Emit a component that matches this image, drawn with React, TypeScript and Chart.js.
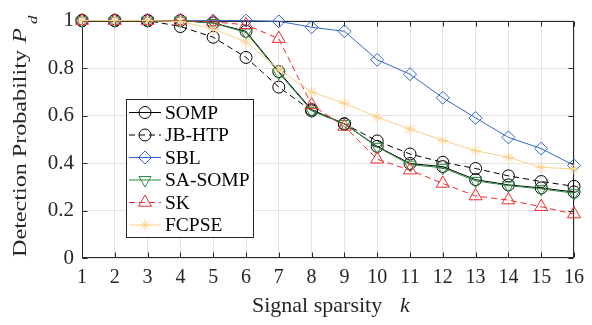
import React, { useEffect, useRef } from 'react';
import { Chart, registerables } from 'chart.js';

Chart.register(...registerables);

// ---------- data ----------
const sparsity = [1, 2, 3, 4, 5, 6, 7, 8, 9, 10, 11, 12, 13, 14, 15, 16];
const seriesNames = ['SOMP', 'JB-HTP', 'SBL', 'SA-SOMP', 'SK', 'FCPSE'];
const somp = [1, 1, 1, 1, 0.99, 0.955, 0.785, 0.625, 0.565, 0.47, 0.398, 0.385, 0.33, 0.308, 0.295, 0.278];
const jbHtp = [1, 1, 1, 0.975, 0.93, 0.845, 0.72, 0.62, 0.565, 0.493, 0.438, 0.403, 0.377, 0.346, 0.322, 0.302];
const sbl = [1, 1, 1, 1, 1, 1, 0.997, 0.972, 0.955, 0.835, 0.774, 0.675, 0.59, 0.508, 0.461, 0.39];
const saSomp = [1, 1, 1, 1, 0.99, 0.95, 0.78, 0.62, 0.565, 0.468, 0.393, 0.38, 0.325, 0.305, 0.291, 0.273];
const sk = [1, 1, 1, 1, 0.995, 0.982, 0.924, 0.645, 0.554, 0.416, 0.37, 0.314, 0.261, 0.244, 0.216, 0.185];
const fcpse = [1, 1, 1, 0.996, 0.965, 0.91, 0.795, 0.699, 0.652, 0.593, 0.543, 0.495, 0.452, 0.424, 0.382, 0.375];
const yTickValues = [0, 0.2, 0.4, 0.6, 0.8, 1];
const xTitle = 'Signal sparsity';
const xTitleVar = 'k';
const yTitle = 'Detection Probability';
const yTitleVar = 'P';
const yTitleSub = 'd';

// ---------- styles ----------
const FONT = '"Liberation Serif", "Times New Roman", serif';
const TEXT = '#262626';
const styles = [
  { color: '#000000', dash: [] as number[], marker: 'circle', r: 6 },
  { color: '#000000', dash: [6, 4], marker: 'circle', r: 6 },
  { color: '#3366cc', dash: [], marker: 'diamond', r: 6.5 },
  { color: '#2b8a3e', dash: [], marker: 'triDown', r: 7 },
  { color: '#ee2c2c', dash: [6, 4], marker: 'triUp', r: 7.5 },
  { color: '#fdd088', dash: [], marker: 'star', r: 5.5 },
];
const seriesValues = [somp, jbHtp, sbl, saSomp, sk, fcpse];

function chartPointStyle(m: string) {
  if (m === 'circle') return { pointStyle: 'circle', pointRotation: 0 };
  if (m === 'diamond') return { pointStyle: 'rectRot', pointRotation: 0 };
  if (m === 'triDown') return { pointStyle: 'triangle', pointRotation: 180 };
  if (m === 'triUp') return { pointStyle: 'triangle', pointRotation: 0 };
  return { pointStyle: 'star', pointRotation: 0 };
}

function drawMarker(ctx: CanvasRenderingContext2D, m: string, x: number, y: number, r: number) {
  ctx.beginPath();
  if (m === 'circle') {
    ctx.arc(x, y, r, 0, Math.PI * 2);
  } else if (m === 'diamond') {
    ctx.moveTo(x, y - r); ctx.lineTo(x + r, y); ctx.lineTo(x, y + r); ctx.lineTo(x - r, y); ctx.closePath();
  } else if (m === 'triUp' || m === 'triDown') {
    const s = m === 'triUp' ? 1 : -1;
    for (let i = 0; i < 3; i++) {
      const a = (i * 2 * Math.PI) / 3;
      const px = x + Math.sin(a) * r;
      const py = y - s * Math.cos(a) * r;
      if (i === 0) ctx.moveTo(px, py); else ctx.lineTo(px, py);
    }
    ctx.closePath();
  } else {
    for (let i = 0; i < 4; i++) {
      const a = (i * Math.PI) / 4;
      ctx.moveTo(x - Math.cos(a) * r, y - Math.sin(a) * r);
      ctx.lineTo(x + Math.cos(a) * r, y + Math.sin(a) * r);
    }
  }
  ctx.stroke();
}

const al = (v: number) => Math.round(v) + 0.5;

const framePlugin = {
  id: 'frame',
  beforeDatasetsDraw(chart: any) {
    const { ctx, chartArea: a, scales } = chart;
    ctx.save();
    ctx.lineWidth = 1;
    ctx.strokeStyle = '#262626';
    const L = al(a.left), R = al(a.right - 1), T = al(a.top), B = al(a.bottom - 1);
    ctx.beginPath();
    ctx.moveTo(L, T); ctx.lineTo(R, T); ctx.lineTo(R, B); ctx.lineTo(L, B); ctx.closePath();
    ctx.stroke();
    ctx.beginPath();
    sparsity.forEach((k) => {
      const px = al(scales.x.getPixelForValue(k));
      ctx.moveTo(px, B); ctx.lineTo(px, B - 5);
      ctx.moveTo(px, T); ctx.lineTo(px, T + 5);
    });
    yTickValues.forEach((v) => {
      const py = al(scales.y.getPixelForValue(v));
      ctx.moveTo(L, py); ctx.lineTo(L + 5, py);
      ctx.moveTo(R, py); ctx.lineTo(R - 5, py);
    });
    ctx.stroke();
    ctx.restore();
  },
  afterDraw(chart: any) {
    const { ctx } = chart;
    ctx.save();
    // legend
    const bx = 126.5, by = 99.5, bw = 127, bh = 138;
    ctx.fillStyle = '#ffffff';
    ctx.fillRect(bx, by, bw, bh);
    ctx.strokeStyle = '#262626';
    ctx.lineWidth = 1;
    ctx.strokeRect(bx, by, bw, bh);
    ctx.font = `19.5px ${FONT}`;
    ctx.textBaseline = 'middle';
    ctx.textAlign = 'left';
    seriesNames.forEach((name, i) => {
      const st = styles[i];
      const y = 112.5 + i * 22.5;
      ctx.strokeStyle = st.color;
      ctx.lineWidth = 1;
      ctx.setLineDash(st.dash);
      ctx.beginPath();
      ctx.moveTo(129, y); ctx.lineTo(161, y);
      ctx.stroke();
      ctx.setLineDash([]);
      drawMarker(ctx, st.marker, 145, y, st.r);
      ctx.fillStyle = '#000000';
      ctx.fillText(name, 165, y + 1);
    });

    // x title
    ctx.fillStyle = TEXT;
    ctx.textBaseline = 'alphabetic';
    ctx.font = `22px ${FONT}`;
    ctx.fillText(xTitle, 252, 312);
    ctx.font = `italic 22px ${FONT}`;
    ctx.fillText(xTitleVar, 400, 312);

    // y title (rotated), stretched along its length as in the reference
    ctx.save();
    ctx.translate(25.5, 257);
    ctx.rotate(-Math.PI / 2);
    ctx.font = `19.5px ${FONT}`;
    const w = ctx.measureText(yTitle).width;
    const sx = 207 / w;
    ctx.save();
    ctx.scale(sx, 1);
    ctx.fillText(yTitle, 0, 0);
    ctx.restore();
    ctx.save();
    ctx.translate(214, 0);
    ctx.scale(1.25, 1);
    ctx.font = `italic 19.5px ${FONT}`;
    ctx.fillText(yTitleVar, 0, 0);
    ctx.restore();
    ctx.save();
    ctx.translate(233, 11);
    ctx.scale(1.25, 1);
    ctx.font = `italic 13.5px ${FONT}`;
    ctx.fillText(yTitleSub, 0, 0);
    ctx.restore();
    ctx.restore();
    ctx.restore();
  },
};

export default function App() {
  const ref = useRef<HTMLCanvasElement | null>(null);
  useEffect(() => {
    if (!ref.current) return;
    const datasets = seriesNames.map((name, i) => {
      const st = styles[i];
      return {
        label: name,
        data: sparsity.map((k, j) => ({ x: k, y: seriesValues[i][j] })),
        borderColor: st.color,
        borderWidth: 1,
        borderDash: st.dash,
        pointBorderColor: st.color,
        pointBackgroundColor: 'rgba(0,0,0,0)',
        pointBorderWidth: 1,
        pointRadius: st.r,
        ...chartPointStyle(st.marker),
        tension: 0,
        clip: false,
        order: seriesNames.length - 1 - i,
      };
    });
    const chart = new Chart(ref.current, {
      type: 'line',
      data: { datasets },
      plugins: [framePlugin],
      options: {
        responsive: false,
        animation: false,
        devicePixelRatio: 1,
        layout: { padding: { left: 0, top: 13, right: 13, bottom: 0 } },
        plugins: { legend: { display: false }, tooltip: { enabled: false } },
        scales: {
          x: {
            type: 'linear',
            min: 1,
            max: 16,
            afterFit: (s: any) => { s.height = 67; },
            afterBuildTicks: (s: any) => { s.ticks = sparsity.map((v) => ({ value: v })); },
            grid: { color: '#e3e3e3', drawTicks: false, lineWidth: 1 },
            border: { display: false },
            ticks: {
              padding: 8,
              color: TEXT,
              font: { family: FONT, size: 20 },
              maxRotation: 0,
              autoSkip: false,
              callback: (v: any) => String(v),
            },
          },
          y: {
            type: 'linear',
            min: 0,
            max: 1,
            afterFit: (s: any) => { s.width = 82; },
            afterBuildTicks: (s: any) => { s.ticks = yTickValues.map((v) => ({ value: v })); },
            grid: { color: '#e3e3e3', drawTicks: false, lineWidth: 1 },
            border: { display: false },
            ticks: {
              padding: 8,
              color: TEXT,
              font: { family: FONT, size: 21 },
              callback: (v: any) => String(Number(Number(v).toFixed(1))),
            },
          },
        },
      },
    });
    return () => chart.destroy();
  }, []);
  return (
    <div style={{ position: 'fixed', left: 0, top: 0, width: 592, height: 325, background: '#ffffff' }}>
      <canvas ref={ref} width={592} height={325} style={{ display: 'block', width: 592, height: 325 }} />
    </div>
  );
}
